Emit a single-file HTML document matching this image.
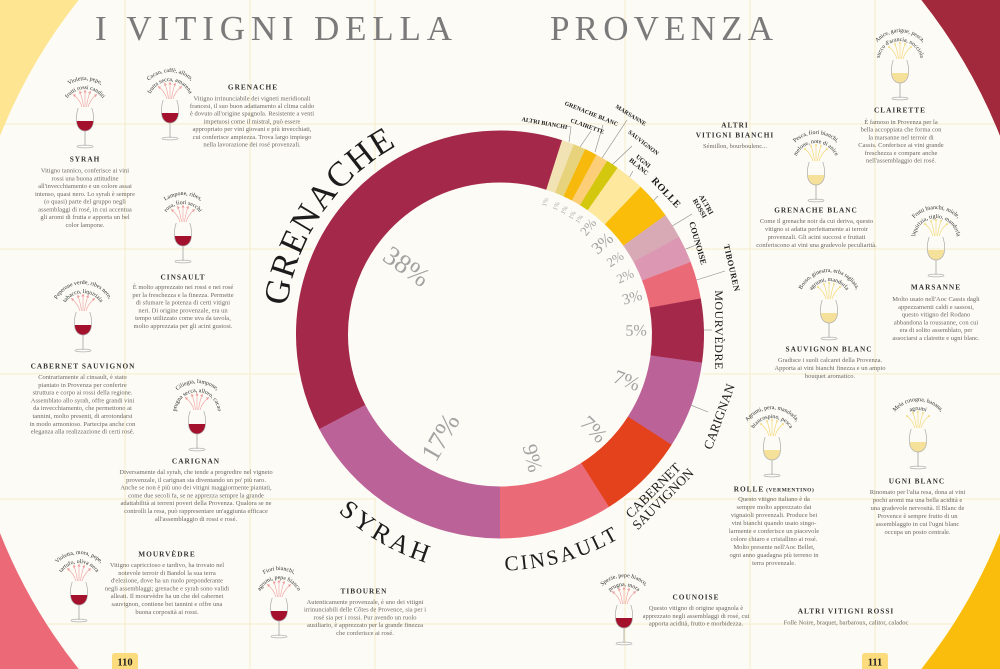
<!DOCTYPE html>
<html><head><meta charset="utf-8">
<style>
html,body{margin:0;padding:0;background:#fcfbf5;width:1000px;height:669px;overflow:hidden;}
svg{display:block;}
.b{font-family:"Liberation Serif",serif;font-size:6.5px;fill:#6e6963;text-anchor:middle;}
.h{font-family:"Liberation Serif",serif;font-size:7.3px;font-weight:bold;fill:#333;text-anchor:middle;letter-spacing:1px;}
.a{font-family:"Liberation Serif",serif;font-size:5.8px;fill:#2a2a2a;text-anchor:middle;}
.p{font-family:"Liberation Serif",serif;fill:#a3a3a3;text-anchor:middle;}
.L{font-family:"Liberation Serif",serif;fill:#1c1c1c;text-anchor:middle;}
.s{font-family:"Liberation Serif",serif;fill:#1c1c1c;text-anchor:middle;font-weight:bold;}
</style></head><body>
<svg width="1000" height="669" viewBox="0 0 1000 669" xmlns="http://www.w3.org/2000/svg" style="overflow:hidden">
<defs>
 <path id="a1" d="M-25.98,17 A30,30 0 1 1 25.98,17"/>
 <path id="a2" d="M-18.19,12.5 A21,21 0 1 1 18.19,12.5"/>
 <path id="gC" d="M305.8,426.7 A215,215 0 0 1 517.2,120.2"/>
 <path id="sC" d="M263.8,377 A240,240 0 0 0 582.9,559.7"/>
 <path id="cC" d="M368,530.1 A236,236 0 0 0 715.6,430.5"/>
 <marker id="mr" viewBox="0 0 6 6" refX="3" refY="3" markerUnits="userSpaceOnUse" markerWidth="3" markerHeight="3" orient="auto"><path d="M0,0 L6,3 L0,6 Z" fill="#ee9d9d"/></marker>
 <g id="rg">
  <g stroke="#ef9e9e" stroke-width="0.6" fill="none" marker-end="url(#mr)">
   <path d="M-3,-1 Q-5,-8 -11,-13"/>
   <path d="M-1.5,-1 Q-2.5,-9 -5,-16"/>
   <path d="M0,-1 L0,-17"/>
   <path d="M1.5,-1 Q2.5,-9 5,-16"/>
   <path d="M3,-1 Q5,-8 11,-13"/>
  </g>
  <path d="M-8.4,13 C-8,19 -4.5,23 0,23 C4.5,23 8,19 8.4,13 Z" fill="#a3112d"/>
  <path d="M-6.8,0 C-8.8,6 -9,11 -8.3,15 C-7.5,20 -4,23 0,23 C4,23 7.5,20 8.3,15 C9,11 8.8,6 6.8,0" fill="none" stroke="#aaa" stroke-width="0.7"/>
  <line x1="0" y1="23" x2="0" y2="38" stroke="#b5b5b5" stroke-width="1"/>
  <ellipse cx="0" cy="38.5" rx="8" ry="1.4" fill="none" stroke="#b5b5b5" stroke-width="0.7"/>
 </g>
 <g id="wg">
  <g stroke="#f2d469" stroke-width="0.6" fill="none">
   <path d="M-3,-1 Q-5,-8 -11,-13"/>
   <path d="M-1.5,-1 Q-2.5,-9 -5,-16"/>
   <path d="M0,-1 L0,-17"/>
   <path d="M1.5,-1 Q2.5,-9 5,-16"/>
   <path d="M3,-1 Q5,-8 11,-13"/>
  </g>
  <g fill="#f2d469"><circle cx="-11" cy="-13" r="0.9"/><circle cx="-5" cy="-16" r="0.9"/><circle cx="0" cy="-17" r="0.9"/><circle cx="5" cy="-16" r="0.9"/><circle cx="11" cy="-13" r="0.9"/></g>
  <path d="M-8.4,13 C-8,19 -4.5,23 0,23 C4.5,23 8,19 8.4,13 Z" fill="#f6e19a"/>
  <path d="M-6.8,0 C-8.8,6 -9,11 -8.3,15 C-7.5,20 -4,23 0,23 C4,23 7.5,20 8.3,15 C9,11 8.8,6 6.8,0" fill="none" stroke="#aaa" stroke-width="0.7"/>
  <line x1="0" y1="23" x2="0" y2="38" stroke="#b5b5b5" stroke-width="1"/>
  <ellipse cx="0" cy="38.5" rx="8" ry="1.4" fill="none" stroke="#b5b5b5" stroke-width="0.7"/>
 </g>
</defs>

<!-- background -->
<rect x="0" y="0" width="1000" height="669" fill="#fcfbf5"/>

<!-- grid -->
<g stroke="#f6edc9" stroke-width="1">
 <line x1="125" y1="0" x2="125" y2="669"/><line x1="250" y1="0" x2="250" y2="669"/><line x1="375" y1="0" x2="375" y2="669"/>
 <line x1="625" y1="0" x2="625" y2="669"/><line x1="750" y1="0" x2="750" y2="669"/><line x1="875" y1="0" x2="875" y2="669"/>
 <line x1="0" y1="124" x2="1000" y2="124"/><line x1="0" y1="249" x2="1000" y2="249"/><line x1="0" y1="374" x2="1000" y2="374"/>
 <line x1="0" y1="499" x2="1000" y2="499"/><line x1="0" y1="624" x2="1000" y2="624"/>
</g>

<!-- corners -->
<path d="M0,0 H78.63 A538,538 0 0 0 0,135.9 Z" fill="#fde592"/>
<path d="M1000,0 H921.37 A538,538 0 0 1 1000,135.9 Z" fill="#a2283b"/>
<path d="M0,669 H78.63 A538,538 0 0 1 0,533.1 Z" fill="#ec6977"/>
<path d="M1000,669 H921.37 A538,538 0 0 0 1000,533.1 Z" fill="#fbbd0b"/>

<!-- title -->
<text x="95" y="40" textLength="357" lengthAdjust="spacing" font-family="Liberation Serif, serif" font-size="35" fill="#7a7a7a">I VITIGNI DELLA</text>
<text x="550" y="40" textLength="223" lengthAdjust="spacing" font-family="Liberation Serif, serif" font-size="35" fill="#7a7a7a">PROVENZA</text>

<!-- donut -->
<circle cx="500" cy="334.5" r="206" fill="#fcfbf5"/>
<g fill="none" stroke-width="52">
 <circle cx="500" cy="334.5" r="178" stroke="#a4284a" stroke-dasharray="421 2000" transform="rotate(152.3 500 334.5)"/>
 <circle cx="500" cy="334.5" r="178" stroke="#f2e3b4" stroke-dasharray="11.2 2000" transform="rotate(-72.3 500 334.5)"/>
 <circle cx="500" cy="334.5" r="178" stroke="#e7d37c" stroke-dasharray="11.2 2000" transform="rotate(-68.8 500 334.5)"/>
 <circle cx="500" cy="334.5" r="178" stroke="#f7b90b" stroke-dasharray="11.2 2000" transform="rotate(-65.3 500 334.5)"/>
 <circle cx="500" cy="334.5" r="178" stroke="#fcce78" stroke-dasharray="11.2 2000" transform="rotate(-61.8 500 334.5)"/>
 <circle cx="500" cy="334.5" r="178" stroke="#d4c80e" stroke-dasharray="11.2 2000" transform="rotate(-58.3 500 334.5)"/>
 <circle cx="500" cy="334.5" r="178" stroke="#fde89d" stroke-dasharray="26.4 2000" transform="rotate(-54.8 500 334.5)"/>
 <circle cx="500" cy="334.5" r="178" stroke="#f9bd0a" stroke-dasharray="33.2 2000" transform="rotate(-46.4 500 334.5)"/>
 <circle cx="500" cy="334.5" r="178" stroke="#d7aab6" stroke-dasharray="22.7 2000" transform="rotate(-35.8 500 334.5)"/>
 <circle cx="500" cy="334.5" r="178" stroke="#dc98b3" stroke-dasharray="24.5 2000" transform="rotate(-28.6 500 334.5)"/>
 <circle cx="500" cy="334.5" r="178" stroke="#eb6a78" stroke-dasharray="33.2 2000" transform="rotate(-20.8 500 334.5)"/>
 <circle cx="500" cy="334.5" r="178" stroke="#a4284a" stroke-dasharray="56.5 2000" transform="rotate(-10.2 500 334.5)"/>
 <circle cx="500" cy="334.5" r="178" stroke="#bb6298" stroke-dasharray="77.4 2000" transform="rotate(7.9 500 334.5)"/>
 <circle cx="500" cy="334.5" r="178" stroke="#e3421c" stroke-dasharray="78 2000" transform="rotate(32.7 500 334.5)"/>
 <circle cx="500" cy="334.5" r="178" stroke="#eb6a78" stroke-dasharray="100.7 2000" transform="rotate(57.7 500 334.5)"/>
 <circle cx="500" cy="334.5" r="178" stroke="#bb6298" stroke-dasharray="193.8 2000" transform="rotate(90 500 334.5)"/>
</g>

<!-- percentages -->
<text class="p" font-size="27" transform="translate(407,266) rotate(35)" dy="0.35em">38%</text>
<text class="p" font-size="27" transform="translate(440,437) rotate(-60)" dy="0.35em">17%</text>
<text class="p" font-size="21" transform="translate(533,458) rotate(76)" dy="0.35em">9%</text>
<text class="p" font-size="21" transform="translate(594,429) rotate(45)" dy="0.35em">7%</text>
<text class="p" font-size="20" transform="translate(627,380) rotate(20)" dy="0.35em">7%</text>
<text class="p" font-size="16" transform="translate(636,330) rotate(-1)" dy="0.35em">5%</text>
<text class="p" font-size="15" transform="translate(632,297) rotate(-16)" dy="0.35em">3%</text>
<text class="p" font-size="13" transform="translate(625,276) rotate(-25)" dy="0.35em">2%</text>
<text class="p" font-size="13" transform="translate(615,259) rotate(-33)" dy="0.35em">2%</text>
<text class="p" font-size="17" transform="translate(602,243) rotate(-42)" dy="0.35em">3%</text>
<text class="p" font-size="13" transform="translate(588,227) rotate(-51)" dy="0.35em">2%</text>
<text class="p" font-size="6.5" transform="translate(545,202) rotate(-72)" dy="0.35em">1%</text>
<text class="p" font-size="6.5" transform="translate(556,206) rotate(-67)" dy="0.35em">1%</text>
<text class="p" font-size="6.5" transform="translate(564,210) rotate(-63)" dy="0.35em">1%</text>
<text class="p" font-size="6.5" transform="translate(572,215) rotate(-60)" dy="0.35em">1%</text>
<text class="p" font-size="6.5" transform="translate(579,219) rotate(-56)" dy="0.35em">1%</text>

<!-- leader lines -->
<g stroke="#8a8a8a" stroke-width="0.6" fill="none">
 <polyline points="566,126 571,127 569,142"/>
 <line x1="591" y1="131" x2="580" y2="147"/>
 <line x1="603" y1="125" x2="595" y2="152"/>
 <line x1="627" y1="120" x2="602" y2="158"/>
 <line x1="632" y1="146" x2="612.5" y2="164.5"/>
 <line x1="633" y1="171" x2="629.5" y2="177"/>
 <line x1="658" y1="196" x2="653.7" y2="200.4"/>
 <line x1="692" y1="214" x2="672.7" y2="225.8"/>
 <line x1="696" y1="245" x2="685.4" y2="249.2"/>
 <line x1="725" y1="271" x2="696.6" y2="280"/>
 <line x1="704" y1="330" x2="712" y2="330"/>
 <line x1="691.3" y1="405.3" x2="708" y2="412"/>
</g>

<!-- big curved labels -->
<text class="L" font-size="35" letter-spacing="1.5"><textPath href="#gC" startOffset="50%">GRENACHE</textPath></text>
<text class="L" font-size="26" letter-spacing="3.5"><textPath href="#sC" startOffset="50%">SYRAH</textPath></text>
<text class="L" font-size="21" letter-spacing="2.5"><textPath href="#cC" startOffset="50%">CINSAULT</textPath></text>

<!-- straight rotated labels -->
<g transform="translate(658,494) rotate(-45)"><text class="L" font-size="13.5" x="-1" y="-1.5">CABERNET</text><text class="L" font-size="13.5" x="0" y="11.5">SAUVIGNON</text></g>
<text class="L" font-size="13" transform="translate(719,416.5) rotate(-70)" dy="0.35em">CARIGNAN</text>
<text class="L" font-size="12" letter-spacing="0.5" transform="translate(719,330) rotate(90)" dy="0.35em">MOURVÈDRE</text>
<text class="s" font-size="8.3" letter-spacing="0.5" transform="translate(732,268) rotate(77)" dy="0.35em">TIBOUREN</text>
<text class="s" font-size="8.3" transform="translate(698,243) rotate(74)" dy="0.35em">COUNOISE</text>
<g transform="translate(703,206.5) rotate(60)"><text class="s" font-size="7" y="-1.5">ALTRI</text><text class="s" font-size="7" y="6">ROSSI</text></g>
<text class="s" font-size="10" letter-spacing="0.6" transform="translate(666.5,192.5) rotate(47)" dy="0.35em">ROLLE</text>
<g transform="translate(641,164) rotate(40)"><text class="s" font-size="6.5" y="-1.5">UGNI</text><text class="s" font-size="6.5" y="5.5">BLANC</text></g>
<text class="s" font-size="6" transform="translate(643.5,142.5) rotate(38)" dy="0.35em">SAUVIGNON</text>
<text class="s" font-size="6" transform="translate(631,115) rotate(32)" dy="0.35em">MARSANNE</text>
<text class="s" font-size="6" transform="translate(591.5,113.5) rotate(22)" dy="0.35em">GRENACHE BLANC</text>
<text class="s" font-size="6" transform="translate(587.5,126) rotate(20)" dy="0.35em">CLAIRETTE</text>
<text class="s" font-size="6" transform="translate(544.5,123) rotate(10)" dy="0.35em">ALTRI BIANCHI</text>

<!-- glasses -->
<use href="#rg" x="85" y="108"/>
<use href="#rg" x="170" y="100"/>
<use href="#rg" x="183" y="223"/>
<use href="#rg" x="83" y="312"/>
<use href="#rg" x="197" y="411"/>
<use href="#rg" x="79" y="582"/>
<use href="#rg" x="279" y="598"/>
<use href="#rg" x="624" y="605"/>
<use href="#wg" x="900" y="60"/>
<use href="#wg" x="816" y="162"/>
<use href="#wg" x="936" y="237"/>
<use href="#wg" x="829" y="300"/>
<use href="#wg" x="772" y="437"/>
<use href="#wg" x="918" y="429"/>

<!-- aroma texts -->
<g transform="translate(85,108)"><text class="a"><textPath href="#a1" startOffset="50%">Violetta, pepe,</textPath></text><text class="a"><textPath href="#a2" startOffset="50%">frutti rossi canditi</textPath></text></g>
<g transform="translate(170,100)"><text class="a"><textPath href="#a1" startOffset="50%">Cacao, caffè, alloro,</textPath></text><text class="a"><textPath href="#a2" startOffset="50%">frutta secca, amarena</textPath></text></g>
<g transform="translate(183,223)"><text class="a"><textPath href="#a1" startOffset="50%">Lampone, ribes,</textPath></text><text class="a"><textPath href="#a2" startOffset="50%">rosa, fiori secchi</textPath></text></g>
<g transform="translate(83,312)"><text class="a"><textPath href="#a1" startOffset="50%">Peperone verde, ribes nero,</textPath></text><text class="a"><textPath href="#a2" startOffset="50%">tabacco, liquirizia</textPath></text></g>
<g transform="translate(197,411)"><text class="a"><textPath href="#a1" startOffset="50%">Ciliegia, lampone,</textPath></text><text class="a"><textPath href="#a2" startOffset="50%">prugna secca, alloro, cacao</textPath></text></g>
<g transform="translate(79,582)"><text class="a"><textPath href="#a1" startOffset="50%">Violetta, mora, pepe,</textPath></text><text class="a"><textPath href="#a2" startOffset="50%">tartufo, oliva nera</textPath></text></g>
<g transform="translate(279,598)"><text class="a"><textPath href="#a1" startOffset="50%">Fiori bianchi,</textPath></text><text class="a"><textPath href="#a2" startOffset="50%">agrumi, pepe bianco</textPath></text></g>
<g transform="translate(624,605)"><text class="a"><textPath href="#a1" startOffset="50%">Spezie, pepe bianco,</textPath></text><text class="a"><textPath href="#a2" startOffset="50%">prugna, mora</textPath></text></g>
<g transform="translate(900,60)"><text class="a"><textPath href="#a1" startOffset="50%">Anice, garigue, pesca,</textPath></text><text class="a"><textPath href="#a2" startOffset="50%">succo d'arancia, nocciola</textPath></text></g>
<g transform="translate(816,162)"><text class="a"><textPath href="#a1" startOffset="50%">Pesca, fiori bianchi,</textPath></text><text class="a"><textPath href="#a2" startOffset="50%">melone, note di anice</textPath></text></g>
<g transform="translate(936,237)"><text class="a"><textPath href="#a1" startOffset="50%">Frutti bianchi, miele,</textPath></text><text class="a"><textPath href="#a2" startOffset="50%">liquirizia, tiglio, mandorla</textPath></text></g>
<g transform="translate(829,300)"><text class="a"><textPath href="#a1" startOffset="50%">Bosso, ginestra, erba tagliata,</textPath></text><text class="a"><textPath href="#a2" startOffset="50%">agrumi, mandorla</textPath></text></g>
<g transform="translate(772,437)"><text class="a"><textPath href="#a1" startOffset="50%">Agrumi, pera, mandorla,</textPath></text><text class="a"><textPath href="#a2" startOffset="50%">biancospino, pesca</textPath></text></g>
<g transform="translate(918,429)"><text class="a"><textPath href="#a1" startOffset="50%">Mela cotogna, banana,</textPath></text><text class="a"><textPath href="#a2" startOffset="50%">agrumi</textPath></text></g>

<!-- text blocks -->
<text class="h" x="85" y="161.6">SYRAH</text>
<text class="b"><tspan x="85" y="172.7">Vitigno tannico, conferisce ai vini</tspan><tspan x="85" y="180.5">rossi una buona attitudine</tspan><tspan x="85" y="188.2">all'invecchiamento e un colore assai</tspan><tspan x="85" y="196">intenso, quasi nero. Lo syrah è sempre</tspan><tspan x="85" y="203.7">(o quasi) parte del gruppo negli</tspan><tspan x="85" y="211.5">assemblaggi di rosé, in cui accentua</tspan><tspan x="85" y="219.2">gli aromi di frutta e apporta un bel</tspan><tspan x="85" y="227">color lampone.</tspan></text>

<text class="h" x="253" y="89.6">GRENACHE</text>
<text class="b"><tspan x="252" y="100.3">Vitigno irrinunciabile dei vigneti meridionali</tspan><tspan x="252" y="108">francesi, il suo buon adattamento al clima caldo</tspan><tspan x="252" y="115.7">è dovuto all'origine spagnola. Resistente a venti</tspan><tspan x="252" y="123.4">impetuosi come il mistral, può essere</tspan><tspan x="252" y="131.1">appropriato per vini giovani e più invecchiati,</tspan><tspan x="252" y="138.8">cui conferisce ampiezza. Trova largo impiego</tspan><tspan x="252" y="146.5">nella lavorazione dei rosé provenzali.</tspan></text>

<text class="h" x="183" y="279.6">CINSAULT</text>
<text class="b"><tspan x="183" y="289">È molto apprezzato nei rossi e nei rosé</tspan><tspan x="183" y="296.8">per la freschezza e la finezza. Permette</tspan><tspan x="183" y="304.6">di sfumare la potenza di certi vitigni</tspan><tspan x="183" y="312.4">neri. Di origine provenzale, era un</tspan><tspan x="183" y="320.2">tempo utilizzato come uva da tavola,</tspan><tspan x="183" y="328">molto apprezzata per gli acini gustosi.</tspan></text>

<text class="h" x="83" y="368.6">CABERNET SAUVIGNON</text>
<text class="b"><tspan x="82.5" y="379">Contrariamente al cinsault, è stato</tspan><tspan x="82.5" y="386.8">piantato in Provenza per conferire</tspan><tspan x="82.5" y="394.6">struttura e corpo ai rossi della regione.</tspan><tspan x="82.5" y="402.4">Assemblato allo syrah, offre grandi vini</tspan><tspan x="82.5" y="410.2">da invecchiamento, che permettono ai</tspan><tspan x="82.5" y="418">tannini, molto presenti, di arrotondarsi</tspan><tspan x="82.5" y="425.8">in modo armonioso. Partecipa anche con</tspan><tspan x="82.5" y="433.6">eleganza alla realizzazione di certi rosé.</tspan></text>

<text class="h" x="196" y="463.6">CARIGNAN</text>
<text class="b"><tspan x="196" y="474">Diversamente dal syrah, che tende a progredire nel vigneto</tspan><tspan x="196" y="481.8">provenzale, il carignan sta diventando un po' più raro.</tspan><tspan x="196" y="489.6">Anche se non è più uno dei vitigni maggiormente piantati,</tspan><tspan x="196" y="497.4">come due secoli fa, se ne apprezza sempre la grande</tspan><tspan x="196" y="505.2">adattabilità ai terreni poveri della Provenza. Qualora se ne</tspan><tspan x="196" y="513">controlli la resa, può rappresentare un'aggiunta efficace</tspan><tspan x="196" y="520.8">all'assemblaggio di rossi e rosé.</tspan></text>

<text class="h" x="167" y="556.6">MOURVÈDRE</text>
<text class="b"><tspan x="167" y="567">Vitigno capriccioso e tardivo, ha trovato nel</tspan><tspan x="167" y="574.8">notevole terroir di Bandol la sua terra</tspan><tspan x="167" y="582.6">d'elezione, dove ha un ruolo preponderante</tspan><tspan x="167" y="590.4">negli assemblaggi; grenache e syrah sono validi</tspan><tspan x="167" y="598.2">alleati. Il mourvèdre ha un che del cabernet</tspan><tspan x="167" y="606">sauvignon, contiene bei tannini e offre una</tspan><tspan x="167" y="613.8">buona corposità ai rossi.</tspan></text>

<text class="h" x="364" y="593.6">TIBOUREN</text>
<text class="b"><tspan x="365" y="604">Autenticamente provenzale, è uno dei vitigni</tspan><tspan x="365" y="611.7">irrinunciabili delle Côtes de Provence, sia per i</tspan><tspan x="365" y="619.4">rosé sia per i rossi. Pur avendo un ruolo</tspan><tspan x="365" y="627.1">ausiliario, è apprezzato per la grande finezza</tspan><tspan x="365" y="634.8">che conferisce ai rosé.</tspan></text>

<text class="h" x="696" y="599.6">COUNOISE</text>
<text class="b"><tspan x="696" y="610">Questo vitigno di origine spagnola è</tspan><tspan x="696" y="617.8">apprezzato negli assemblaggi di rosé, cui</tspan><tspan x="696" y="625.6">apporta acidità, frutto e morbidezza.</tspan></text>

<text class="h" x="846" y="613.6">ALTRI VITIGNI ROSSI</text>
<text class="b" x="846" y="624.5">Folle Noire, braquet, barbaroux, calitor, caladoc</text>

<text class="h" x="774" y="491.6">ROLLE<tspan font-size="5.5" letter-spacing="0.5"> (VERMENTINO)</tspan></text>
<text class="b"><tspan x="774" y="501">Questo vitigno italiano è da</tspan><tspan x="774" y="509">sempre molto apprezzato dai</tspan><tspan x="774" y="517">vignaioli provenzali. Produce bei</tspan><tspan x="774" y="525">vini bianchi quando usato singo-</tspan><tspan x="774" y="533">larmente e conferisce un piacevole</tspan><tspan x="774" y="541">colore chiaro e cristallino ai rosé.</tspan><tspan x="774" y="549">Molto presente nell'Aoc Bellet,</tspan><tspan x="774" y="557">ogni anno guadagna più terreno in</tspan><tspan x="774" y="565">terra provenzale.</tspan></text>

<text class="h" x="917" y="483.6">UGNI BLANC</text>
<text class="b"><tspan x="917.5" y="494">Rinomato per l'alta resa, dona ai vini</tspan><tspan x="917.5" y="502">pochi aromi ma una bella acidità e</tspan><tspan x="917.5" y="510">una gradevole nervosità. Il Blanc de</tspan><tspan x="917.5" y="518">Provence è sempre frutto di un</tspan><tspan x="917.5" y="526">assemblaggio in cui l'ugni blanc</tspan><tspan x="917.5" y="534">occupa un posto centrale.</tspan></text>

<text class="h" x="829" y="351.6">SAUVIGNON BLANC</text>
<text class="b"><tspan x="830" y="362">Gradisce i suoli calcarei della Provenza.</tspan><tspan x="830" y="370">Apporta ai vini bianchi finezza e un ampio</tspan><tspan x="830" y="378">bouquet aromatico.</tspan></text>

<text class="h" x="936" y="289.6">MARSANNE</text>
<text class="b"><tspan x="936" y="301">Molto usato nell'Aoc Cassis dagli</tspan><tspan x="936" y="308.8">appezzamenti caldi e sassosi,</tspan><tspan x="936" y="316.6">questo vitigno del Rodano</tspan><tspan x="936" y="324.4">abbandona la roussanne, con cui</tspan><tspan x="936" y="332.2">era di solito assemblato, per</tspan><tspan x="936" y="340">associarsi a clairette e ugni blanc.</tspan></text>

<text class="h" x="816" y="212.6">GRENACHE BLANC</text>
<text class="b"><tspan x="816.5" y="223">Come il grenache noir da cui deriva, questo</tspan><tspan x="816.5" y="231">vitigno si adatta perfettamente ai terroir</tspan><tspan x="816.5" y="239">provenzali. Gli acini succosi e fruttati</tspan><tspan x="816.5" y="247">conferiscono ai vini una gradevole peculiarità.</tspan></text>

<text class="h" x="900" y="112.6">CLAIRETTE</text>
<text class="b"><tspan x="901" y="124">È famoso in Provenza per la</tspan><tspan x="901" y="131.7">bella accoppiata che forma con</tspan><tspan x="901" y="139.4">la marsanne nel terroir di</tspan><tspan x="901" y="147.1">Cassis. Conferisce ai vini grande</tspan><tspan x="901" y="154.8">freschezza e compare anche</tspan><tspan x="901" y="162.5">nell'assemblaggio dei rosé.</tspan></text>

<text class="h" x="735" y="127.6">ALTRI</text>
<text class="h" x="735" y="137.6">VITIGNI BIANCHI</text>
<text class="b" x="735" y="148">Sémillon, bourboulenc...</text>

<!-- page numbers -->
<path d="M112,669 V656 Q112,653 115,653 H135 Q138,653 138,656 V669 Z" fill="#fddc7d"/>
<text x="125" y="665.5" text-anchor="middle" font-family="Liberation Serif, serif" font-size="10.5" font-weight="bold" fill="#222">110</text>
<path d="M862,669 V656 Q862,653 865,653 H885 Q888,653 888,656 V669 Z" fill="#fddc7d"/>
<text x="875" y="665.5" text-anchor="middle" font-family="Liberation Serif, serif" font-size="10.5" font-weight="bold" fill="#222">111</text>
</svg>
</body></html>
